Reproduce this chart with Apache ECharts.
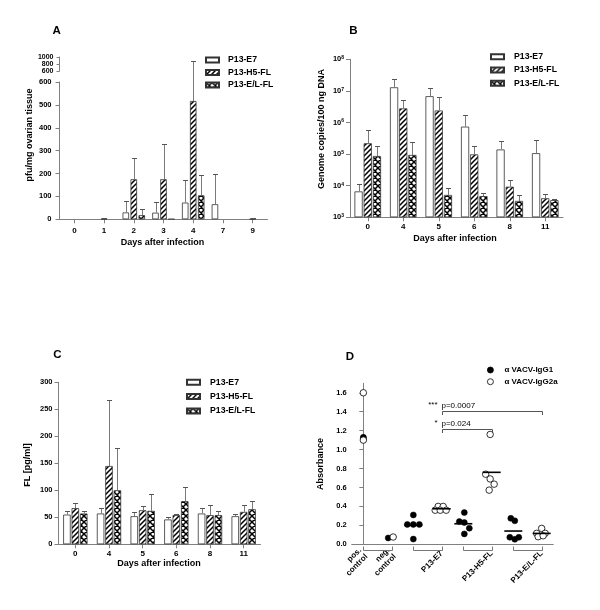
<!DOCTYPE html>
<html><head><meta charset="utf-8">
<script src="https://cdn.jsdelivr.net/npm/echarts@6/dist/echarts.min.js"></script>
<style>html,body{margin:0;padding:0;background:#fff}#c{width:600px;height:610px}</style>
</head><body><div id="c"></div>
<script>
// ================= DATA =================
const seriesNames = ['P13-E7', 'P13-H5-FL', 'P13-E/L-FL'];

// Panel A (pfu/mg ovarian tissue), mean and mean+SD
const daysA = ['0', '1', '2', '3', '4', '7', '9'];
const aE7 = [0, 0, 30, 29, 73, 66, 0];
const aE7Err = [0, 0, 82, 74, 170, 196, 0];
const aH5 = [0, 2, 175, 175, 517, 0, 2];
const aH5Err = [0, 6, 270, 327, 893, 0, 6];
const aEL = [0, 0, 18, 1, 105, 0, 0];
const aELErr = [0, 0, 47, 2, 193, 0, 0];
const aLowerTicks = [0, 100, 200, 300, 400, 500, 600];
const aUpperTicks = [600, 800, 1000];

// Panel B (genome copies/100 ng DNA)
const daysB = ['0', '4', '5', '6', '8', '11'];
const bE7 = [6600, 1.3e7, 6.8e6, 7.4e5, 1.4e5, 1.07e5];
const bE7Err = [11500, 2.4e7, 1.2e7, 1.7e6, 2.6e5, 2.7e5];
const bH5 = [2.2e5, 2.8e6, 2.4e6, 9.8e4, 9.3e3, 4.0e3];
const bH5Err = [6.0e5, 5.1e6, 6.3e6, 1.8e5, 1.5e4, 5.3e3];
const bEL = [8.7e4, 9.4e4, 5.1e3, 4.7e3, 3.3e3, 3.5e3];
const bELErr = [1.87e5, 2.4e5, 8.7e3, 6.0e3, 5.0e3, 3.8e3];

// Panel C (FL pg/ml)
const daysC = ['0', '4', '5', '6', '8', '11'];
const cE7 = [55, 57, 52, 46, 57, 52];
const cE7Err = [62, 67, 59, 51, 67, 57];
const cH5 = [67, 145, 63, 54, 54, 60];
const cH5Err = [76, 267, 71, 57, 72, 72];
const cEL = [57, 100, 62, 80, 54, 65];
const cELErr = [62, 179, 94, 106, 61, 80];

// Panel D (absorbance)
const dSlotX = [0, 0.567, 1, 1.567, 2, 2.567, 3, 3.567];
const dLabelSlots = [0, 1, 3, 5, 7];
const dLabels = ['pos.\ncontrol', 'neg.\ncontrol', 'P13-E7', 'P13-H5-FL', 'P13-E/L-FL'];
const dPairs = [[0, 1], [2, 3], [4, 5], [6, 7]];
const dLegend = ['\u03b1 VACV-IgG1', '\u03b1 VACV-IgG2a'];
const igg1Slot = [0, 1, 2, 4, 6];
const igg1Values = [[1.13, 1.12], [0.067], [0.31, 0.21, 0.21, 0.21, 0.055], [0.335, 0.24, 0.23, 0.17, 0.11], [0.274, 0.248, 0.074, 0.053, 0.074]];
const igg1Dx = [[0, 0], [-0.07], [0, -0.12, 0, 0.12, 0], [0.02, -0.08, 0.02, 0.12, 0.02], [-0.05, 0.03, -0.07, 0.03, 0.11]];
const igg2aSlot = [0, 1, 3, 5, 7];
const igg2aValues = [[1.60, 1.10], [0.077], [0.40, 0.40, 0.36, 0.36, 0.36], [1.16, 0.74, 0.69, 0.635, 0.572], [0.168, 0.116, 0.116, 0.08, 0.09]];
const igg2aDx = [[0, 0], [0.03], [-0.07, 0.03, -0.13, -0.03, 0.09], [-0.03, -0.12, -0.03, 0.05, -0.05], [0, -0.1, 0.07, -0.07, 0.03]];
const meanSlot = [2, 3, 4, 5, 6, 7];
const meanValues = [0.20, 0.375, 0.217, 0.76, 0.14, 0.115];
const sigFrom = [3, 3];
const sigTo = [7, 5];
const sigY = [1.406, 1.221];
const sigStars = ['***', '*'];
const sigText = ['p=0.0007', 'p=0.024'];
const dYTicks = [0, 0.2, 0.4, 0.6, 0.8, 1.0, 1.2, 1.4, 1.6];

// ================= STYLE / LAYOUT =================
const F = '"Liberation Sans", Arial, Helvetica, sans-serif';
const AX = '#808080';
const gA = {left: 59.5, top: 82, width: 208, height: 137.3};
const gAu = {left: 59.5, top: 57, width: 208, height: 14};
const gB = {left: 350, top: 59.3, width: 213, height: 158};
const gC = {left: 58.5, top: 382.3, width: 202, height: 162};
const gD = {left: 351.7, top: 383.3, width: 201.6, height: 161};

function makePattern(kind) {
  const s = kind === 'hatch' ? 5 : 6;
  const c = document.createElement('canvas');
  c.width = s; c.height = s;
  const g = c.getContext('2d');
  g.fillStyle = '#fff'; g.fillRect(0, 0, s, s);
  g.strokeStyle = '#000'; g.lineWidth = 1.5;
  g.beginPath();
  for (let k = -1; k <= 1; k++) { g.moveTo(k * s - 1, s + 1); g.lineTo(k * s + s + 1, -1); }
  if (kind === 'cross') { for (let k = -1; k <= 1; k++) { g.moveTo(k * s - 1, -1); g.lineTo(k * s + s + 1, s + 1); } }
  g.stroke();
  return {image: c, repeat: 'repeat'};
}
const fills = ['#fff', makePattern('hatch'), makePattern('cross')];

function errItem(k, step, brk) {
  return function (params, api) {
    const i = api.value(0), v = api.value(1), hi = api.value(2);
    if (!(hi > v)) return null;
    const base = api.coord([i, v]);
    let yTop;
    if (brk && hi > brk.at) {
      const yb = api.coord([i, brk.at])[1];
      yTop = yb - brk.gap - (hi - brk.at) / (brk.max - brk.at) * brk.h;
    } else yTop = api.coord([i, hi])[1];
    const x = Math.round(base[0] + (k - 1) * step) + 0.5;
    yTop = Math.round(yTop) + 0.5;
    return {type: 'group', children: [
      {type: 'line', shape: {x1: x, y1: base[1], x2: x, y2: yTop}, style: {stroke: '#7a7a7a', lineWidth: 1}},
      {type: 'line', shape: {x1: x - 2.5, y1: yTop, x2: x + 2.5, y2: yTop}, style: {stroke: '#555', lineWidth: 1}}
    ]};
  };
}

function barSet(xi, yi, vals, errs, bw, gapPct, brk) {
  const out = [];
  const step = bw * (1 + gapPct / 100);
  vals.forEach((arr, k) => {
    out.push({type: 'bar', name: seriesNames[k], xAxisIndex: xi, yAxisIndex: yi,
      data: arr.map(v => (v > 0 ? v : '-')),
      barWidth: bw, barGap: gapPct + '%', clip: true,
      itemStyle: {color: fills[k], borderColor: '#333', borderWidth: 0.8}});
  });
  vals.forEach((arr, k) => {
    out.push({type: 'custom', xAxisIndex: xi, yAxisIndex: yi, silent: true, clip: false, z: 3,
      data: arr.map((v, i) => [i, v, errs[k][i]]), renderItem: errItem(k, step, brk)});
  });
  return out;
}

const lblY = {color: '#000', fontFamily: F, fontWeight: 'bold', fontSize: 7.5, hideOverlap: false, showMinLabel: true, showMaxLabel: true,
  formatter: v => String(v)};
function yAx(gi, o) {
  return Object.assign({type: 'value', gridIndex: gi,
    axisLine: {show: true, lineStyle: {color: AX, width: 1}},
    axisTick: {show: true, length: 4, lineStyle: {color: AX}},
    splitLine: {show: false}}, o);
}
function xCat(gi, data, margin) {
  return {type: 'category', gridIndex: gi, data: data,
    axisLine: {show: true, lineStyle: {color: AX, width: 1}},
    axisTick: {show: true, alignWithLabel: true, length: 4, lineStyle: {color: AX}},
    axisLabel: {interval: 0, color: '#000', fontFamily: F, fontWeight: 'bold', fontSize: 8, margin: margin, hideOverlap: false},
    splitLine: {show: false}};
}
function legendAt(left, top, gap, names, icon, iw, ih, pad, fs) {
  return {data: names, orient: 'vertical', left: left, top: top, itemGap: gap, icon: icon,
    itemWidth: iw, itemHeight: ih, selectedMode: false, padding: 0,
    textStyle: {color: '#000', fontFamily: F, fontWeight: 'bold', fontSize: fs || 8.7, lineHeight: 10, padding: [0, 0, 0, pad]}};
}
function txt(x, y, text, size, rot, align) {
  return {type: 'text', x: x, y: y, rotation: rot || 0,
    style: {text: text, font: 'bold ' + size + 'px ' + F, fill: '#000', align: align || 'center', verticalAlign: 'middle'}};
}

// D points
function pts(slots, vals, dx) {
  const out = [];
  slots.forEach((s, g) => vals[g].forEach((v, j) => out.push([dSlotX[s] + dx[g][j], v])));
  return out;
}

const brkA = {at: 600, max: 1000, h: gAu.height, gap: gA.top - (gAu.top + gAu.height)};

const legD = legendAt(487, 365, 1.7, dLegend, 'circle', 6, 6, 6, 8);
legD.itemStyle = {borderWidth: 0.8};

const option = {
  animation: false,
  textStyle: {fontFamily: F},
  grid: [gA, gAu, gB, gC, gD].map(g => Object.assign({outerBoundsMode: 'none', containLabel: false}, g)),
  xAxis: [
    xCat(0, daysA, 7),
    Object.assign(xCat(1, daysA, 6), {show: false}),
    xCat(2, daysB, 5.5),
    xCat(3, daysC, 5.5),
    {type: 'value', gridIndex: 4, min: -0.233, max: 3.8,
      axisLine: {show: true, lineStyle: {color: AX, width: 1}},
      axisTick: {show: false}, splitLine: {show: false},
      axisLabel: {customValues: dLabelSlots.map(s => dSlotX[s]), rotate: 45, margin: 8, hideOverlap: false,
        color: '#000', fontFamily: F, fontWeight: 'bold', fontSize: 8, lineHeight: 9,
        formatter: v => { const i = dLabelSlots.findIndex(s => Math.abs(dSlotX[s] - v) < 1e-6); return i >= 0 ? dLabels[i] : ''; }}}
  ],
  yAxis: [
    yAx(0, {min: 0, max: 600, axisTick: {show: true, length: 4, customValues: aLowerTicks, lineStyle: {color: AX}},
      axisLabel: Object.assign({margin: 8, customValues: aLowerTicks}, lblY)}),
    yAx(1, {min: 600, max: 1000, axisTick: {show: true, length: 3, customValues: aUpperTicks, lineStyle: {color: AX}},
      axisLabel: Object.assign({}, lblY, {margin: 6, fontSize: 7, lineHeight: 7, customValues: aUpperTicks})}),
    yAx(2, {type: 'log', logBase: 10, min: 1000, max: 1e8, startValue: 1000, splitNumber: 5,
      axisLabel: {margin: 6, hideOverlap: false, showMinLabel: true, showMaxLabel: true,
        formatter: v => '{b|10}{s|' + Math.round(Math.log10(v)) + '}',
        rich: {b: {fontSize: 7.5, fontWeight: 'bold', fontFamily: F, color: '#000'},
               s: {fontSize: 5, fontWeight: 'bold', fontFamily: F, color: '#000', verticalAlign: 'top', lineHeight: 6}}}}),
    yAx(3, {min: 0, max: 300, interval: 50, axisLabel: Object.assign({margin: 6}, lblY)}),
    yAx(4, {min: 0, max: 1.7, axisTick: {show: true, length: 4, customValues: dYTicks, lineStyle: {color: AX}},
      axisLabel: Object.assign({}, lblY, {margin: 5, customValues: dYTicks, formatter: v => v.toFixed(1)})})
  ],
  legend: [
    legendAt(205, 55, 2.5, seriesNames, 'rect', 13, 5, 4),
    legendAt(490, 51.7, 3.3, seriesNames, 'rect', 13, 5, 5),
    legendAt(186, 377.3, 4.3, seriesNames, 'rect', 13, 5, 5),
    legD
  ],
  series: [].concat(
    barSet(0, 0, [aE7, aH5, aEL], [aE7Err, aH5Err, aELErr], 6.5, 23, brkA),
    barSet(2, 2, [bE7, bH5, bEL], [bE7Err, bH5Err, bELErr], 8.2, 12, null),
    barSet(3, 3, [cE7, cH5, cEL], [cE7Err, cH5Err, cELErr], 7.5, 12, null),
    [
      {type: 'scatter', name: dLegend[0], xAxisIndex: 4, yAxisIndex: 4, symbol: 'circle', symbolSize: 6, z: 4,
        itemStyle: {color: '#000', borderColor: '#000', borderWidth: 0.5, opacity: 1}, data: pts(igg1Slot, igg1Values, igg1Dx)},
      {type: 'scatter', name: dLegend[1], xAxisIndex: 4, yAxisIndex: 4, symbol: 'circle', symbolSize: 6.5, z: 4,
        itemStyle: {color: '#fff', borderColor: '#000', borderWidth: 0.8, opacity: 1}, data: pts(igg2aSlot, igg2aValues, igg2aDx)},
      {type: 'custom', xAxisIndex: 4, yAxisIndex: 4, silent: true, clip: false, z: 5,
        data: meanSlot.map((s, i) => [dSlotX[s], meanValues[i]]),
        renderItem: (p, api) => {
          const c = api.coord([api.value(0), api.value(1)]);
          return {type: 'line', shape: {x1: c[0] - 9, y1: c[1], x2: c[0] + 9, y2: c[1]}, style: {stroke: '#000', lineWidth: 1.6}};
        }},
      {type: 'custom', xAxisIndex: 4, yAxisIndex: 4, silent: true, clip: false, z: 2,
        data: dPairs.map(p => [dSlotX[p[0]], dSlotX[p[1]]]),
        renderItem: (p, api) => {
          const a = api.coord([api.value(0), 0]), b = api.coord([api.value(1), 0]);
          const y0 = Math.round(a[1]) + 0.5, x1 = Math.round(a[0]) + 0.5, x2 = Math.round(b[0]) + 0.5;
          return {type: 'polyline', shape: {points: [[x1, y0 + 2], [x1, y0 + 6], [x2, y0 + 6], [x2, y0 + 2]]},
            style: {stroke: '#777', lineWidth: 1, fill: null}};
        }},
      {type: 'custom', xAxisIndex: 4, yAxisIndex: 4, silent: true, clip: false, z: 2,
        data: sigFrom.map((s, i) => [dSlotX[s], dSlotX[sigTo[i]], sigY[i]]),
        renderItem: (p, api) => {
          const i = p.dataIndex;
          const a = api.coord([api.value(0), api.value(2)]), b = api.coord([api.value(1), api.value(2)]);
          const y = Math.round(a[1]) + 0.5, x1 = Math.round(a[0]) + 0.5, x2 = Math.round(b[0]) + 0.5;
          return {type: 'group', children: [
            {type: 'polyline', shape: {points: [[x1, y + 3.5], [x1, y], [x2, y], [x2, y + 3.5]]}, style: {stroke: '#555', lineWidth: 1, fill: null}},
            {type: 'text', x: x1 - 1, y: y - 1.5, style: {text: sigText[i], font: '8px ' + F, fill: '#000', align: 'left', verticalAlign: 'bottom'}},
            {type: 'text', x: x1 - 5, y: y - 2.5, style: {text: sigStars[i], font: '8px ' + F, fill: '#000', align: 'right', verticalAlign: 'bottom'}}
          ]};
        }}
    ]
  ),
  graphic: [
    txt(52.5, 30.5, 'A', 11.5, 0, 'left'),
    txt(349.3, 30.5, 'B', 11.5, 0, 'left'),
    txt(53.3, 355.3, 'C', 11.5, 0, 'left'),
    txt(345.7, 357, 'D', 11.5, 0, 'left'),
    txt(30, 135, 'pfu/mg ovarian tissue', 9, Math.PI / 2),
    txt(162.5, 243, 'Days after infection', 9, 0),
    txt(321.5, 129, 'Genome copies/100 ng DNA', 9, Math.PI / 2),
    txt(455, 239, 'Days after infection', 9, 0),
    txt(27.7, 465, 'FL [pg/ml]', 9, Math.PI / 2),
    txt(159, 563.3, 'Days after infection', 9, 0),
    txt(321, 464, 'Absorbance', 9, Math.PI / 2)
  ]
};

const chart = echarts.init(document.getElementById('c'), null, {renderer: 'canvas', width: 600, height: 610});
chart.setOption(option);
</script>
</body></html>
